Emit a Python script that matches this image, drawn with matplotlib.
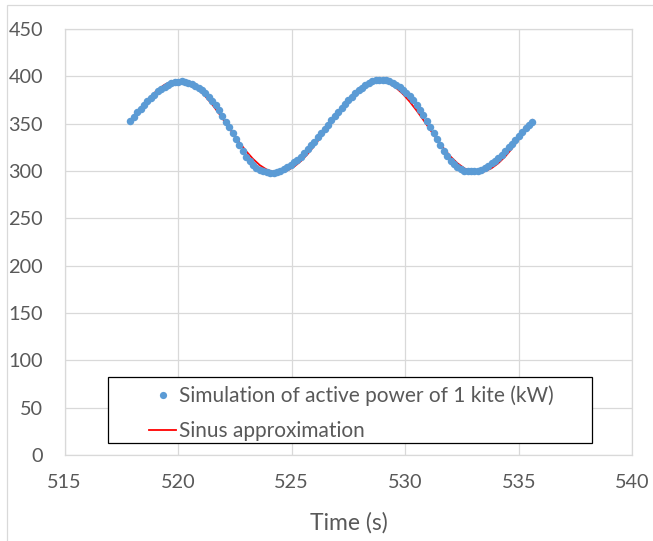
import matplotlib
matplotlib.use("Agg")
import matplotlib.pyplot as plt
from matplotlib.lines import Line2D
from matplotlib.patches import Rectangle

# Simulated active power of one kite
time_s = [
    517.90, 518.05, 518.20, 518.35, 518.50, 518.65, 518.80, 518.95, 519.10, 519.25,
    519.40, 519.55, 519.70, 519.85, 520.00, 520.15, 520.30, 520.45, 520.60, 520.75,
    520.90, 521.05, 521.20, 521.35, 521.50, 521.65, 521.80, 521.95, 522.10, 522.25,
    522.40, 522.55, 522.70, 522.85, 523.00, 523.15, 523.30, 523.45, 523.60, 523.75,
    523.90, 524.05, 524.20, 524.35, 524.50, 524.65, 524.80, 524.95, 525.10, 525.25,
    525.40, 525.55, 525.70, 525.85, 526.00, 526.15, 526.30, 526.45, 526.60, 526.75,
    526.90, 527.05, 527.20, 527.35, 527.50, 527.65, 527.80, 527.95, 528.10, 528.25,
    528.40, 528.55, 528.70, 528.85, 529.00, 529.15, 529.30, 529.45, 529.60, 529.75,
    529.90, 530.05, 530.20, 530.35, 530.50, 530.65, 530.80, 530.95, 531.10, 531.25,
    531.40, 531.55, 531.70, 531.85, 532.00, 532.15, 532.30, 532.45, 532.60, 532.75,
    532.90, 533.05, 533.20, 533.35, 533.50, 533.65, 533.80, 533.95, 534.10, 534.25,
    534.40, 534.55, 534.70, 534.85, 535.00, 535.15, 535.30, 535.45, 535.60,
]
power_kw = [
    353.0, 357.5, 362.0, 366.0, 370.0, 373.5, 377.0, 380.5, 384.0, 386.5,
    389.0, 391.0, 392.5, 393.8, 394.5, 394.6, 394.0, 393.2, 392.0, 390.2,
    388.0, 385.2, 382.0, 378.2, 374.0, 369.2, 364.0, 358.2, 352.0, 346.0,
    340.0, 333.5, 327.0, 321.0, 315.0, 310.2, 306.0, 303.2, 301.0, 299.6,
    298.6, 298.0, 298.0, 298.8, 300.0, 301.8, 304.0, 306.4, 309.0, 312.0,
    315.0, 319.0, 323.0, 327.0, 331.0, 335.5, 340.0, 344.7, 349.0, 353.6,
    358.0, 362.6, 367.0, 371.0, 375.0, 378.6, 382.0, 385.2, 388.0, 390.6,
    393.0, 394.7, 396.0, 396.5, 396.5, 395.9, 395.0, 393.2, 391.0, 388.6,
    386.0, 382.6, 379.0, 374.6, 370.0, 364.6, 359.0, 353.0, 347.0, 340.6,
    334.0, 327.4, 321.0, 315.6, 311.0, 307.2, 304.0, 302.0, 300.5, 299.8,
    299.5, 299.6, 300.0, 301.3, 303.0, 305.4, 308.0, 310.8, 314.0, 317.4,
    321.0, 325.0, 329.0, 333.0, 337.0, 341.0, 345.0, 348.6, 352.0,
]

# Sinus approximation curve
sinus_time = [
    517.9, 518.2, 518.5, 518.8, 519.1, 519.4, 519.7, 520.0, 520.3, 520.6,
    520.9, 521.2, 521.5, 521.8, 522.1, 522.4, 522.7, 523.0, 523.3, 523.6,
    523.9, 524.2, 524.5, 524.8, 525.1, 525.4, 525.7, 526.0, 526.3, 526.6,
    526.9, 527.2, 527.5, 527.8, 528.1, 528.4, 528.7, 529.0, 529.3, 529.6,
    529.9, 530.2, 530.5, 530.8, 531.1, 531.4, 531.7, 532.0, 532.3, 532.6,
    532.9, 533.2, 533.5, 533.8, 534.1, 534.4, 534.7, 535.0, 535.3, 535.6,
]
sinus_kw = [
    350.5, 360.7, 370.3, 378.8, 385.8, 391.1, 394.4, 395.5, 394.4, 391.1,
    385.8, 378.8, 370.3, 360.7, 350.5, 340.1, 330.1, 320.8, 312.7, 306.1,
    301.5, 299.0, 298.6, 300.5, 304.4, 310.3, 317.8, 326.7, 336.6, 347.0,
    357.3, 367.2, 376.1, 383.6, 389.5, 393.5, 395.4, 395.0, 392.4, 387.8,
    381.3, 373.2, 363.9, 353.9, 343.5, 333.3, 323.7, 315.2, 308.2, 302.9,
    299.6, 298.5, 299.6, 302.9, 308.2, 315.2, 323.7, 333.3, 343.5, 353.9,
]

x_ticks = [515, 520, 525, 530, 535, 540]
y_ticks = [0, 50, 100, 150, 200, 250, 300, 350, 400, 450]

plt.rcParams["font.family"] = ["Lato", "DejaVu Sans"]
grid_col = "#D9D9D9"
text_col = "#595959"
blue = "#5B9BD5"

fig = plt.figure(figsize=(6.53, 5.41), dpi=100)
# Excel chart area border (only left/top visible in the crop)
fig.patches.append(Rectangle((7 / 653, -0.05), 1.2, (541 - 5) / 541 + 0.05,
                             transform=fig.transFigure, fill=False,
                             edgecolor=grid_col, linewidth=0.9))

ax = fig.add_axes([0.0989, 0.159, 0.8694, 0.7874])
ax.plot(sinus_time, sinus_kw, color="#FF0000", linewidth=1.3, zorder=2)
ax.plot(time_s, power_kw, linestyle="none", marker="o", markersize=5.4,
        color=blue, markeredgewidth=0, zorder=3)

ax.set_xlim(515, 540)
ax.set_ylim(0, 450)
ax.set_xticks(x_ticks)
ax.set_yticks(y_ticks)
ax.grid(True, color=grid_col, linewidth=0.9)
ax.set_axisbelow(True)
for s in ax.spines.values():
    s.set_color(grid_col)
    s.set_linewidth(0.9)
ax.tick_params(axis="both", length=0, labelsize=14.3, labelcolor=text_col)
ax.tick_params(axis="y", pad=15.5)
ax.tick_params(axis="x", pad=14)
ax.set_xlabel("Time (s)", fontsize=16.5, color=text_col, labelpad=15)

# legend: Excel style box, wider than its contents
ax.add_patch(Rectangle((0.0765, 0.028), 0.929 - 0.0765, 0.183 - 0.028,
                       transform=ax.transAxes, facecolor="white",
                       edgecolor="black", linewidth=0.9, zorder=4))
handles = [
    Line2D([], [], linestyle="none", marker="o", markersize=5.2,
           color=blue, markeredgewidth=0),
    Line2D([], [], color="#FF0000", linewidth=1.3),
]
labels = ["Simulation of active power of 1 kite (kW)", "Sinus approximation"]
leg = ax.legend(handles, labels, loc="upper left",
                bbox_to_anchor=(0.1494, 0.163), frameon=False,
                borderpad=0, borderaxespad=0, handlelength=1.3,
                handletextpad=0.1, labelspacing=0.72, fontsize=15,
                labelcolor=text_col)
leg.set_zorder(5)

fig.savefig("out.png", dpi=100)
